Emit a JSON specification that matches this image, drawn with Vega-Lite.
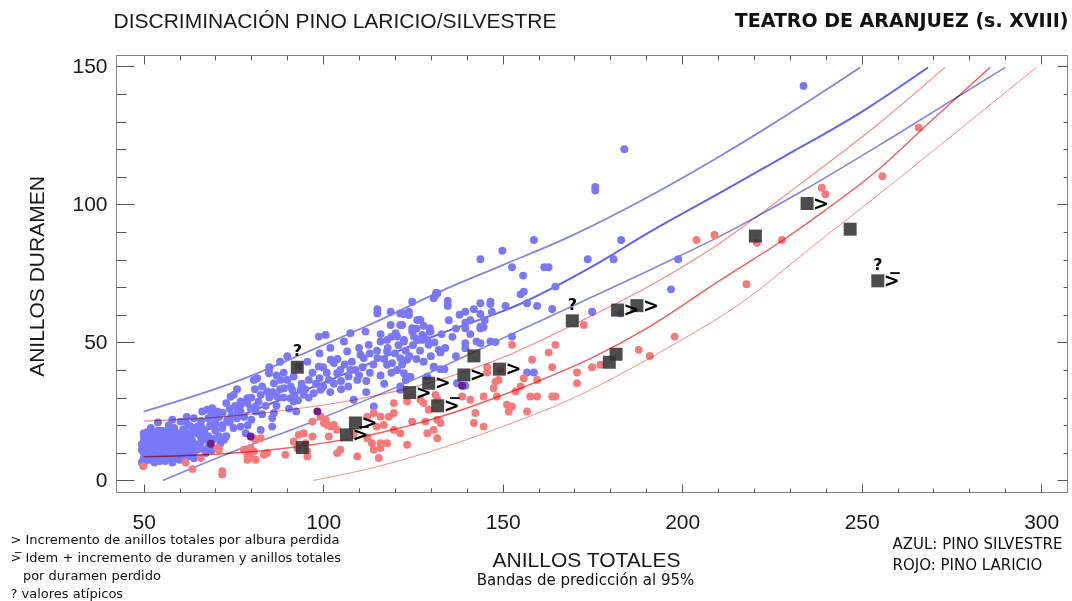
{
  "$schema": "https://vega.github.io/schema/vega-lite/v6.json",
  "width": 951,
  "height": 437,
  "autosize": {"type": "none"},
  "padding": {"left": 116, "top": 55, "right": 5, "bottom": 109},
  "background": "white",
  "config": {"view": {"stroke": "#808080", "strokeWidth": 1}},
  "datasets": {
    "blue": [
      [50,8],[50,10],[50,12],[50,14],[50.1,15.9],[50,17],[51,9],[51,11],[51.5,13],[52,7.5],[52,10],[52,15],[52,19],[53,8],[53,12],[53,17],[53.8,16.5],[54,9],[54,11],[54.5,14],[54,21],[55,8],[55,10],[55,13],[55,18],[56,9],[56,12],[56,16],[56.6,14.7],[57,8],[57,11],[57.5,14],[57,20],[58,9],[58.5,12],[58,17.5],[58,22],[59,8.5],[59,15],[60,9],[60,11],[60,13],[60.5,17],[60.3,21.3],[61,10],[61,12],[61,18.5],[61.7,21.3],[62,14],[62,8.5],[62,23],[63,9],[63,13],[63.1,15.9],[63.1,19.5],[64,10],[64.5,12.3],[64.9,11.1],[64,22.5],[64.9,19.5],[65.9,15.9],[66,21.5],[66.3,25],[66.8,18.3],[67.3,9.9],[67.7,14.7],[67.7,25.6],[68,22.5],[69,24],[69.1,26.2],[69.6,19.5],[70.5,25],[71.4,13.5],[71.9,19],[72.4,14.7],[72,24.5],[73.3,22],[74,26],[73,28],[74.2,30.3],[75.1,31],[76.1,25],[77,27.4],[77,28.6],[78.9,28],[78.9,29.8],[79.8,26.2],[81.2,25],[81.2,26.8],[77,19.5],[78.4,17.1],[82.6,18.3],[76,33],[80.7,36.4],[81.6,37],[84.9,38.8],[84.9,39.4],[84.4,32.2],[82.6,31],[87.2,30.4],[86.3,35.2],[88.1,36.4],[90,36.4],[91.8,37.6],[89.1,33.4],[91.4,32.8],[93.7,32.8],[94.6,31],[90.9,29.8],[91.8,28.6],[86.3,24.4],[85.8,19.5],[85.8,22.6],[90.5,26],[92.5,25],[93.2,41.2],[96,36.4],[95.6,43],[98.8,41.2],[88,43],[90,45],[85,41],[99,46],[102,48],[97.4,31.6],[99.3,32.8],[101.6,36.4],[103.9,38.8],[104.8,40],[107.6,40],[107.1,37.6],[109.5,36.4],[102.1,43.7],[103,42.5],[106.7,46.7],[110.4,45.5],[111.3,44.3],[115.1,44.3],[117.8,46.7],[121.5,44.3],[123.4,43.7],[117.8,41.9],[119.2,42.5],[120.6,40],[105.8,50.3],[112.7,49.1],[116,50.3],[117.8,50.9],[122.5,50.3],[125.3,52.1],[126.2,50.9],[98.8,52.1],[100.7,52.7],[107.6,53.3],[111.8,53.9],[120.2,53.3],[120.6,52.1],[127.6,52.7],[127.6,50.9],[129.9,53.9],[132.2,47.3],[115.1,62],[115.1,60.5],[118.8,61.1],[122.5,60.3],[123.9,61.1],[126.2,58.1],[118.8,56.3],[122,56.3],[124.8,55.1],[124.8,64.7],[131.3,67.2],[131.8,67.8],[114.1,26.8],[108.5,29.2],[121.5,32.8],[112,32],[105,33],[117,35],[122.5,38.8],[123,36.4],[124.3,37.6],[121.5,34],[129,37.6],[130.8,41.2],[121.5,60.5],[123.9,59.9],[121.5,56.3],[124.8,53.9],[122.5,50.9],[129.4,49.1],
      [49.5,6.5],[49.5,11],[49.5,13],[50.5,7],[51,15],[51,17.5],[51.5,9.5],[52.5,12],[52.5,17],[53,6.5],[53.5,10],[53.5,14],[54,18],[54.5,7],[55,15.5],[55.5,11.5],[56,7],[56.5,18],[57,9.5],[57,13],[57,16.5],[58,6.5],[58,15],[58.5,19],[59,11],[59,13],[59.5,17],[60,7.5],[60,15],[61,14],[61,16],[62,10],[62,12],[62,17],[62.5,20],[63,11],[63.5,14.5],[64,8],[64,18],[65,13],[65,17],[66,11.5],[66,14],[66,19.5],[67,17],[68,12],[68,16],[68.5,20],[69,11],[69.5,15],[70,18],[70,21.5],[71,16],[71,23],[72,20],[73,16],[74,21],[74.5,23.5],[75,19],[75.5,27],[76,22.5],[77,25],[78,23],[79,20],[80,22],[80,30],[81,33],[82,28.5],[83,24],[83,34],[84,27],[85,30],[86,32],[87,27],[87,38],[88,33],[89,30],[89,39],[91,34],[92,31],[93,29],[94,35],[95,33],[96,30],[97,39],[98,35],[99,37],[100,34],[100,41],[101,39],[102,32],[103,35],[104,44],[105,36],[106,42],[107,34],[108,43],[109,40],[110,38],[110,48],[111,41],[112,36],[113,46],[113,39],[114,42],[115,47],[116,38],[116,53],[117,44],[118,48],[119,39],[119,52],[120,46],[121,49],[122,42],[123,47],[124,45],[125,49],[126,44],[126,55],[127,47],[128,43],[128,56],[130,45],[131,50],[133,53],[134,48],[135,58],[136,52],[137,55],[137,45],[138,60],[141,53],[141,58],[142,62],[145,58],[147,61],
      [183.9,120],[175.8,106.3],[175.8,105],[158.7,87.1],[149.9,83.2],[143.8,80.1],[183,87.1],[173.7,80.1],[180.9,80.1],[198.9,80.1],[196.9,69.2],[152.6,77.2],[155.7,74.2],[161.6,77.2],[162.8,77.2],[164.7,70.2],[155,67.4],[155.9,68.4],[156.8,64.2],[159.6,63.2],[163.8,62.1],[150.8,63.2],[146.6,64.7],[146.6,63.9],[143.8,64.2],[174.9,61.1],[182.8,60.5],[131.5,68],[130.8,66],[134.7,65.1],[134.7,63.2],[139.6,61.1],[143.8,60.3],[139.6,57.1],[143.8,55.7],[144.7,55.5],[129.7,55.1],[129.7,53.9],[127.1,58.1],[128,52.1],[129,50.9],[142.7,50.3],[146.6,50.3],[148,50.1],[152.6,52.1],[139.6,47.9],[132.7,46.3],[130.8,41],[132.7,40.3],[133.8,40.3],[156.8,39.1],[158.7,39.1],[137.3,35.2],[139.6,34.3],[139.6,49.7],[143.8,49.7],[143.8,55.1],[139.6,55.1],[233.8,142.9]
    ],
    "red": [
      [49.9,5.1],[61.7,6.5],[63.6,4.1],[65.9,8.1],[71,11.1],[70.5,11.7],[71.9,3.3],[71.9,2.1],[77.9,11.1],[79.3,10.5],[78.9,9.3],[79.8,8.1],[79.8,11.7],[80.7,10.5],[78.9,7.5],[81.2,7.5],[80.7,15.3],[82.6,15.3],[81.2,14.7],[83.5,9.3],[84.4,9.9],[89.5,9.3],[91.8,14.1],[92.8,11.7],[93.2,16.5],[95.1,13.5],[94.6,17.1],[95.6,10.5],[95.6,8.7],[97,15.9],[97,21.3],[99.3,23.1],[100.7,22],[100.2,20.8],[101.1,20.1],[103,20.1],[102.1,19.5],[103.9,18.3],[101.6,15.9],[104.8,11.1],[103.9,9.9],[108.5,17.1],[109.5,8.7],[112.3,23.1],[114.1,24.4],[116,23.1],[118.3,23.1],[119.7,24.4],[114.9,19.5],[116.9,20.1],[119.7,18.3],[121.5,17.1],[112.3,15.3],[113.6,13.5],[116,13.5],[117.8,13.5],[114.1,11.1],[116,11.7],[115.5,8.1],[123.4,12.9],[119.7,28],[123.4,28.6],[124.8,21.3],[128,28],[129.4,25.6],[131.8,29.2],[128.5,21.3],[129,17.1],[130.8,18.3],[131.8,15.3],[127.1,29.2],[131.3,31],[131.8,22],[132.7,20.8],[138.7,30.4],[141,29.2],[142.4,24.4],[142,20.8],[144.7,19.5],[144.7,30.4],[148.4,30.4],[147.5,33.4],[148,35.8],[148.9,36.4],[145.7,41],[145.7,39.1],[149.4,40],[151.2,27.4],[152.6,26.8],[151.7,25],[156.8,25],[153.6,32.2],[155,34],[155.9,37],[159.6,36.4],[157.7,30.4],[159.6,30.4],[163.8,30.4],[164.7,30.4],[158.2,43.7],[152.6,49.1],[163.8,41],[162.8,46.3],[164.7,49.1],[170.7,39.1],[170.7,35.2],[174.9,41],[177.2,41.9],[172.6,56.3],[187.9,47.3],[191,45.1],[197.9,52.1],[204,87.1],[209,88.9],[217.9,71.1],[220.8,86.1],[227.8,87.1],[238.9,106],[239.9,103.7],[255.8,110.2],[265.9,127.8]
    ],
    "purple": [[68.7,13.3],[79.8,15.9],[98.4,25],[138.7,34.3]],
    "bluelines": [
      {"s":"bc","x":50,"y":11},{"s":"bc","x":65,"y":17},{"s":"bc","x":77,"y":23.5},{"s":"bc","x":96.5,"y":33.5},{"s":"bc","x":115,"y":43.5},{"s":"bc","x":130,"y":51.8},{"s":"bc","x":155,"y":64},{"s":"bc","x":175,"y":77.5},{"s":"bc","x":191,"y":90},{"s":"bc","x":211,"y":104.5},{"s":"bc","x":228,"y":117},{"s":"bc","x":250,"y":133.5},{"s":"bc","x":268.5,"y":149.6},
      {"s":"bu","x":50,"y":24.9},{"s":"bu","x":77,"y":36.4},{"s":"bu","x":95.7,"y":46.6},{"s":"bu","x":114,"y":57},{"s":"bu","x":132.7,"y":68.5},{"s":"bu","x":150,"y":78},{"s":"bu","x":169,"y":88.5},{"s":"bu","x":191,"y":103},{"s":"bu","x":210.6,"y":117.5},{"s":"bu","x":233,"y":135.5},{"s":"bu","x":249.6,"y":149.6},
      {"s":"bl","x":55.3,"y":0},{"s":"bl","x":75,"y":10.5},{"s":"bl","x":96.5,"y":21},{"s":"bl","x":127,"y":37.5},{"s":"bl","x":155,"y":54.5},{"s":"bl","x":191,"y":76.2},{"s":"bl","x":210.6,"y":88.5},{"s":"bl","x":233.7,"y":105},{"s":"bl","x":260,"y":125.5},{"s":"bl","x":290,"y":149.6}
    ],
    "redlines": [
      {"s":"rc","x":50,"y":8.6},{"s":"rc","x":70,"y":9.5},{"s":"rc","x":85,"y":11},{"s":"rc","x":100,"y":13.5},{"s":"rc","x":115,"y":17},{"s":"rc","x":130,"y":22},{"s":"rc","x":145,"y":28.5},{"s":"rc","x":160,"y":36},{"s":"rc","x":175,"y":44.5},{"s":"rc","x":190,"y":55},{"s":"rc","x":210,"y":72},{"s":"rc","x":228,"y":87},{"s":"rc","x":240,"y":98},{"s":"rc","x":255,"y":113},{"s":"rc","x":270,"y":131},{"s":"rc","x":285.8,"y":149.7},
      {"s":"ru","x":50,"y":21.5},{"s":"ru","x":70,"y":22.8},{"s":"ru","x":90,"y":25.5},{"s":"ru","x":110,"y":29.5},{"s":"ru","x":130,"y":35.5},{"s":"ru","x":150,"y":44.5},{"s":"ru","x":173,"y":58.5},{"s":"ru","x":191,"y":70.5},{"s":"ru","x":210,"y":85.5},{"s":"ru","x":233,"y":107.5},{"s":"ru","x":255,"y":129.5},{"s":"ru","x":273.3,"y":149.7},
      {"s":"rl","x":97.3,"y":0},{"s":"rl","x":112,"y":4},{"s":"rl","x":130,"y":10.5},{"s":"rl","x":150,"y":19.5},{"s":"rl","x":170,"y":30},{"s":"rl","x":185,"y":40},{"s":"rl","x":200,"y":51},{"s":"rl","x":215,"y":63},{"s":"rl","x":238,"y":86.5},{"s":"rl","x":260,"y":109},{"s":"rl","x":280,"y":130},{"s":"rl","x":298.8,"y":149.7}
    ],
    "squares": [
      {"x":92.8,"y":41.0,"r":"","q":"?"},
      {"x":94.2,"y":11.9,"r":"","q":""},
      {"x":106.5,"y":16.5,"r":">̅","q":""},
      {"x":109.0,"y":20.8,"r":">","q":""},
      {"x":124.1,"y":31.8,"r":">","q":""},
      {"x":129.4,"y":35.2,"r":">","q":""},
      {"x":131.9,"y":27.0,"r":">̅","q":""},
      {"x":139.2,"y":38.2,"r":">","q":""},
      {"x":142.0,"y":45.1,"r":"","q":""},
      {"x":149.1,"y":40.3,"r":">","q":""},
      {"x":169.4,"y":57.8,"r":"","q":"?"},
      {"x":179.7,"y":42.8,"r":"","q":""},
      {"x":181.6,"y":45.7,"r":"","q":""},
      {"x":182.0,"y":61.7,"r":">","q":""},
      {"x":187.4,"y":63.3,"r":">","q":""},
      {"x":220.4,"y":88.5,"r":"","q":""},
      {"x":234.8,"y":100.3,"r":">","q":""},
      {"x":246.8,"y":91.0,"r":"","q":""},
      {"x":254.5,"y":72.3,"r":">̅","q":"?"}
    ]
  },
  "resolve": {"axis": {"x": "independent", "y": "independent"}},
  "layer": [
    {
      "data": {"name": "bluelines"},
      "mark": {"type": "line", "interpolate": "monotone"},
      "encoding": {
        "x": {"field": "x", "type": "quantitative", "scale": {"domain": [42.3, 307.2], "nice": false, "zero": false},
          "axis": {"orient": "top", "values": [50,100,150,200,250,300], "labels": false, "domain": false, "grid": false, "ticks": true, "tickSize": -9, "tickColor": "#555", "tickWidth": 1,
            "title": "TEATRO DE ARANJUEZ (s. XVIII)", "titleFont": "DejaVu Sans", "titleFontSize": 19, "titleFontWeight": "bold", "titleColor": "#111", "titleX": 952, "titleY": -29, "titleAlign": "right", "titleBaseline": "alphabetic"}},
        "y": {"field": "y", "type": "quantitative", "scale": {"domain": [-4.2, 154.1], "nice": false, "zero": false},
          "axis": {"orient": "right", "values": [0,50,100,150], "labels": false, "domain": false, "grid": false, "ticks": true, "tickSize": -10, "tickColor": "#555", "tickWidth": 1,
            "title": ["AZUL: PINO SILVESTRE", "ROJO: PINO LARICIO"], "titleFont": "DejaVu Sans", "titleFontSize": 15, "titleFontWeight": "normal", "titleColor": "#111", "titleAngle": 0, "titleX": -175, "titleY": 481, "titleAlign": "left", "titleBaseline": "top", "titleLineHeight": 21}},
        "detail": {"field": "s"},
        "strokeWidth": {"field": "s", "type": "nominal", "scale": {"domain": ["bc","bu","bl","rc","ru","rl"], "range": [2, 1, 1, 2, 1, 1]}, "legend": null},
        "color": {"field": "s", "type": "nominal", "scale": {"domain": ["bc","bu","bl","rc","ru","rl"], "range": ["#6262f0", "#8484e4", "#8484e4", "#f25a5a", "#f28c8c", "#f28c8c"]}, "legend": null}
      }
    },
    {
      "data": {"name": "blue"},
      "mark": {"type": "circle", "size": 62, "opacity": 1, "color": "#7878f8"},
      "encoding": {
        "x": {"field": "0", "type": "quantitative", "scale": {"domain": [42.3, 307.2], "nice": false, "zero": false},
          "axis": {"orient": "bottom", "values": [50,100,150,200,250,300], "ticks": false, "domain": false, "grid": false, "labelFont": "Liberation Sans", "labelFontSize": 21, "labelColor": "#1a1a1a", "labelPadding": 19, "labelFlush": false, "labelOverlap": false,
            "title": "ANILLOS TOTALES", "titleFont": "Liberation Sans", "titleFontSize": 21, "titleFontWeight": "normal", "titleColor": "#1a1a1a", "titleX": 470, "titleY": 74, "titleAlign": "center", "titleBaseline": "alphabetic"}},
        "y": {"field": "1", "type": "quantitative", "scale": {"domain": [-4.2, 154.1], "nice": false, "zero": false},
          "axis": {"orient": "left", "values": [0,50,100,150], "ticks": false, "domain": false, "grid": false, "labelFont": "Liberation Sans", "labelFontSize": 21, "labelColor": "#1a1a1a", "labelPadding": 9, "labelFlush": false, "labelOverlap": false,
            "title": "ANILLOS DURAMEN", "titleFont": "Liberation Sans", "titleFontSize": 21, "titleFontWeight": "normal", "titleColor": "#1a1a1a", "titleAngle": 270, "titleX": -79, "titleY": 221, "titleAlign": "center", "titleBaseline": "middle"}}
      }
    },
    {
      "data": {"name": "red"},
      "mark": {"type": "circle", "size": 62, "opacity": 1, "color": "#f77a7a"},
      "encoding": {
        "x": {"field": "0", "type": "quantitative", "scale": {"domain": [42.3, 307.2], "nice": false, "zero": false},
          "axis": {"orient": "bottom", "values": [50,100,150,200,250,300], "labels": false, "domain": false, "grid": false, "ticks": true, "tickSize": -8, "tickColor": "#555", "tickWidth": 1,
            "title": "Bandas de predicción al 95%", "titleFont": "DejaVu Sans", "titleFontSize": 15, "titleFontWeight": "normal", "titleColor": "#111", "titleX": 469, "titleY": 92, "titleAlign": "center", "titleBaseline": "alphabetic"}},
        "y": {"field": "1", "type": "quantitative", "scale": {"domain": [-4.2, 154.1], "nice": false, "zero": false},
          "axis": {"orient": "left", "values": [0,50,100,150], "labels": false, "domain": false, "grid": false, "ticks": true, "tickSize": -18, "tickColor": "#555", "tickWidth": 1, "title": null}}
      }
    },
    {
      "data": {"name": "purple"},
      "mark": {"type": "circle", "size": 62, "opacity": 1, "color": "#701f86"},
      "encoding": {
        "x": {"field": "0", "type": "quantitative", "scale": {"domain": [42.3, 307.2], "nice": false, "zero": false},
          "axis": {"orient": "bottom", "values": [60,70,80,90,110,120,130,140,160,170,180,190,210,220,230,240,260,270,280,290], "labels": false, "domain": false, "grid": false, "ticks": true, "tickSize": -4, "tickColor": "#555", "tickWidth": 1,
            "title": ["> Incremento de anillos totales por albura perdida", ">̅ Idem + incremento de duramen y anillos totales", "\u200b\u00a0\u00a0\u00a0por duramen perdido", "? valores atípicos"], "titleFont": "DejaVu Sans", "titleFontSize": 13, "titleFontWeight": "normal", "titleColor": "#111", "titleX": -106, "titleY": 41, "titleAlign": "left", "titleBaseline": "top", "titleLineHeight": 18.2}},
        "y": {"field": "1", "type": "quantitative", "scale": {"domain": [-4.2, 154.1], "nice": false, "zero": false},
          "axis": {"orient": "left", "values": [10,20,30,40,60,70,80,90,110,120,130,140], "labels": false, "domain": false, "grid": false, "ticks": true, "tickSize": -10, "tickColor": "#555", "tickWidth": 1, "title": null}}
      }
    },
    {
      "data": {"name": "redlines"},
      "mark": {"type": "line", "interpolate": "monotone", "blend": "multiply"},
      "encoding": {
        "x": {"field": "x", "type": "quantitative", "scale": {"domain": [42.3, 307.2], "nice": false, "zero": false},
          "axis": {"orient": "top", "values": [60,70,80,90,110,120,130,140,160,170,180,190,210,220,230,240,260,270,280,290], "labels": false, "domain": false, "grid": false, "ticks": true, "tickSize": -5, "tickColor": "#555", "tickWidth": 1,
            "title": "DISCRIMINACIÓN PINO LARICIO/SILVESTRE", "titleFont": "Liberation Sans", "titleFontSize": 21, "titleFontWeight": "normal", "titleColor": "#1a1a1a", "titleX": -3, "titleY": -28, "titleAlign": "left", "titleBaseline": "alphabetic"}},
        "y": {"field": "y", "type": "quantitative", "scale": {"domain": [-4.2, 154.1], "nice": false, "zero": false},
          "axis": {"orient": "right", "values": [10,20,30,40,60,70,80,90,110,120,130,140], "labels": false, "domain": false, "grid": false, "ticks": true, "tickSize": -4, "tickColor": "#555", "tickWidth": 1, "title": null}},
        "detail": {"field": "s"},
        "strokeWidth": {"field": "s", "type": "nominal", "scale": {"domain": ["bc","bu","bl","rc","ru","rl"], "range": [2, 1, 1, 2, 1, 1]}, "legend": null},
        "color": {"field": "s", "type": "nominal", "scale": {"domain": ["bc","bu","bl","rc","ru","rl"], "range": ["#6262f0", "#8484e4", "#8484e4", "#f25a5a", "#f28c8c", "#f28c8c"]}, "legend": null}
      }
    },
    {
      "data": {"name": "squares"},
      "mark": {"type": "square", "size": 169, "color": "#333333", "opacity": 0.87},
      "encoding": {
        "x": {"field": "x", "type": "quantitative", "scale": {"domain": [42.3, 307.2], "nice": false, "zero": false}, "axis": null},
        "y": {"field": "y", "type": "quantitative", "scale": {"domain": [-4.2, 154.1], "nice": false, "zero": false}, "axis": null}
      }
    },
    {
      "data": {"name": "squares"},
      "transform": [{"filter": "datum.r != ''"}],
      "mark": {"type": "text", "align": "left", "baseline": "middle", "dx": 6, "font": "DejaVu Sans", "fontSize": 19, "fontWeight": "bold", "color": "#000"},
      "encoding": {
        "x": {"field": "x", "type": "quantitative", "scale": {"domain": [42.3, 307.2], "nice": false, "zero": false}, "axis": null},
        "y": {"field": "y", "type": "quantitative", "scale": {"domain": [-4.2, 154.1], "nice": false, "zero": false}, "axis": null},
        "text": {"field": "r"}
      }
    },
    {
      "data": {"name": "squares"},
      "transform": [{"filter": "datum.q != ''"}],
      "mark": {"type": "text", "align": "center", "baseline": "middle", "dy": -16, "font": "DejaVu Sans", "fontSize": 16, "fontWeight": "bold", "color": "#000"},
      "encoding": {
        "x": {"field": "x", "type": "quantitative", "scale": {"domain": [42.3, 307.2], "nice": false, "zero": false}, "axis": null},
        "y": {"field": "y", "type": "quantitative", "scale": {"domain": [-4.2, 154.1], "nice": false, "zero": false}, "axis": null},
        "text": {"field": "q"}
      }
    }
  ]
}
